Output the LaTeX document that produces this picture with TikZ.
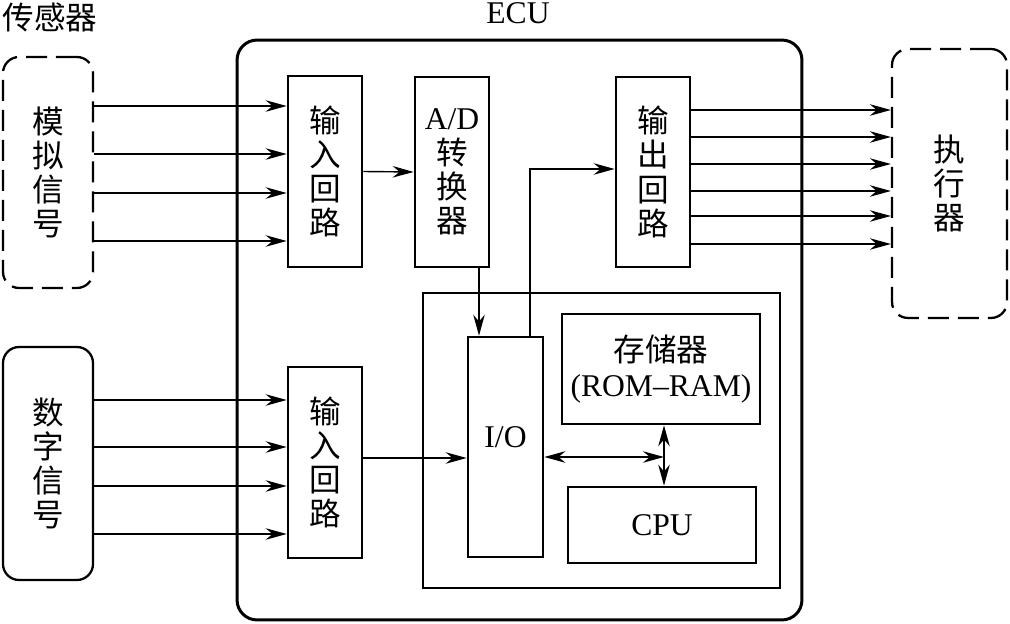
\documentclass[tikz,border=0pt]{standalone}
\usepackage{fontspec}
\setmainfont{Liberation Serif}
\newfontfamily\cjk{Noto Sans CJK SC}
\usetikzlibrary{arrows.meta}
\begin{document}
\begin{tikzpicture}[x=0.02cm,y=-0.02cm,
    font=\fontsize{18pt}{19.5pt}\selectfont,
    box/.style={draw,line width=1.5pt,align=center,inner sep=0pt},
    sigbox/.style={draw,line width=1.3pt,rounded corners=0.32cm,align=center},
    dashbox/.style={sigbox,dash pattern=on 0.42cm off 0.18cm},
    arr/.style={-{Stealth[length=4.2mm,width=2.3mm]},line width=0.8pt},
    bus/.style={{Stealth[length=4.2mm,width=2.3mm]}-{Stealth[length=4.2mm,width=2.3mm]},line width=0.8pt}]
\useasboundingbox (0,0) rectangle (1010,624);
  % Draw ECU frame
  \node[draw,line width=1.7pt,rounded corners=0.4cm,minimum width=11.3cm,minimum height=11.6cm] (ecu) at (519.5,330) {};
  \node at (518,13) {ECU};
  \node at (50,17) {\cjk 传感器};
  % Draw sensor and actuator boxes
  \node[dashbox,minimum width=1.8cm,minimum height=4.62cm] (ana) at (48,172.5) {\cjk 模\\\cjk 拟\\\cjk 信\\\cjk 号};
  \node[sigbox,minimum width=1.8cm,minimum height=4.66cm] (dig) at (48,463.5) {\cjk 数\\\cjk 字\\\cjk 信\\\cjk 号};
  \node[dashbox,minimum width=2.3cm,minimum height=5.38cm] (act) at (949.5,183.5) {\cjk 执\\\cjk 行\\\cjk 器};
  % Draw circuit blocks
  \node[box,minimum width=1.48cm,minimum height=3.82cm] (in1) at (325,171.5) {\cjk 输\\\cjk 入\\\cjk 回\\\cjk 路};
  \node[box,minimum width=1.48cm,minimum height=3.82cm] (in2) at (325,462.5) {\cjk 输\\\cjk 入\\\cjk 回\\\cjk 路};
  \node[box,minimum width=1.48cm,minimum height=3.8cm] (adc) at (452,172) {A/D\\\cjk 转\\\cjk 换\\\cjk 器};
  \node[box,minimum width=1.48cm,minimum height=3.8cm] (out) at (653,172) {\cjk 输\\\cjk 出\\\cjk 回\\\cjk 路};
  % Draw microcomputer
  \node[box,line width=1.6pt,minimum width=7.14cm,minimum height=5.9cm] (mcu) at (601.5,440.5) {};
  \node[box,minimum width=1.5cm,minimum height=4.4cm] (io) at (505.5,447) {};
  \node at (505.5,437) {I/O};
  \node[box,minimum width=3.96cm,minimum height=2.2cm] (mem) at (661,369) {{\cjk 存储器}\\(ROM--RAM)};
  \node[box,minimum width=3.76cm,minimum height=1.52cm] (cpu) at (662,525) {CPU};
  \coordinate (bus) at (664,457);
  % Draw signal lines
  \foreach \y in {106,154,193,241}
    \draw[arr] (ana.east |- 0,\y) -- (in1.west |- 0,\y);
  \foreach \y in {400,447,486,534}
    \draw[arr] (dig.east |- 0,\y) -- (in2.west |- 0,\y);
  \foreach \y in {110,137,164,191,216,244}
    \draw[arr] (out.east |- 0,\y) -- (act.west |- 0,\y);
  \draw[arr] (in1.east) -- (adc.west);
  \draw[arr] (adc.south -| 479,0) -- (io.north -| 479,0);
  \draw[arr] (io.north -| 530,0) |- (out.west |- 0,169);
  \draw[arr] (in2.east |- 0,458) -- (io.west |- 0,458);
  % Draw data bus
  \draw[bus] (io.east |- bus) -- (bus);
  \draw[bus] (mem.south -| bus) -- (cpu.north -| bus);
\end{tikzpicture}
\end{document}
